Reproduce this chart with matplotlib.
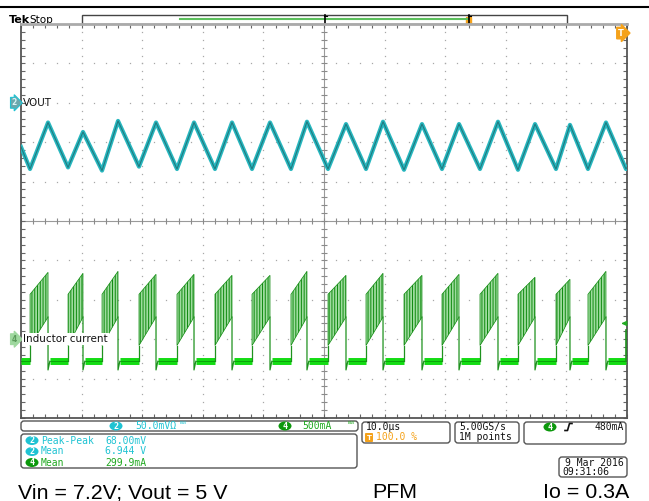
import numpy as np
import matplotlib
matplotlib.use("Agg")
import matplotlib.pyplot as plt
from matplotlib.patches import FancyBboxPatch, Rectangle, Polygon, Ellipse

# ---- channel 2 : VOUT (triangle ripple), time in us, volts
vout_t = [0.0, 1.49, 4.46, 7.76, 10.23, 13.37, 16.01, 19.47, 22.28, 25.74, 28.55,
          32.01, 34.82, 38.12, 41.09, 44.55, 47.19, 50.66, 53.63, 56.93, 59.74,
          63.20, 66.17, 69.47, 72.28, 75.74, 78.71, 82.01, 84.82, 88.28, 90.59,
          93.56, 96.53, 99.83, 100.0]
vout_v = [6.944, 6.916, 6.975, 6.918, 6.963, 6.914, 6.977, 6.919, 6.975, 6.916, 6.975,
          6.916, 6.975, 6.916, 6.975, 6.916, 6.976, 6.916, 6.973, 6.916, 6.976,
          6.915, 6.973, 6.916, 6.973, 6.916, 6.976, 6.915, 6.973, 6.916, 6.972,
          6.916, 6.975, 6.916, 6.918]

# ---- channel 4 : inductor current bursts (PFM), us / mA
burst_start = [1.49, 7.76, 13.37, 19.47, 25.74, 32.01, 38.12, 44.55,
               50.66, 56.93, 63.20, 69.47, 75.74, 82.01, 88.28, 93.56]
burst_end = [4.46, 10.23, 16.01, 22.28, 28.55, 34.82, 41.09, 47.19,
             53.63, 59.74, 66.17, 72.28, 78.71, 84.82, 90.59, 96.53]
burst_peak = [1129, 1117, 1142, 1104, 1104, 1091, 1091, 1142,
              1091, 1117, 1091, 1104, 1117, 1066, 1041, 1142]
burst_top0 = 850     # top of the ringing right after switch-on
burst_low0 = 200     # bottom of the ringing right after switch-on
burst_low1 = 560     # bottom of the ringing at switch-off
undershoot = -110
last_start = 99.83
last_level = 400

# ---- scope settings
ch2_scale, ch2_offset, ch2_pos = 0.05, 7.0, 3.0
ch4_scale, ch4_offset, ch4_pos = 500.0, 280.0, -3.0
trig_level = 480.0

meas_names = ["Peak-Peak", "Mean", "Mean"]
meas_values = ["68.00mV", "6.944 V", "299.9mA"]
meas_chan = ["2", "2", "4"]

CYAN = "#1fc3d3"
TEAL = "#27b7bf"
GREEN = "#1fa81f"
BADGE_G = "#0c980c"
ORANGE = "#f5a21a"
MONO = "DejaVu Sans Mono"


def v2div(v):
    return ch2_pos + (np.asarray(v) - ch2_offset) / ch2_scale


def i2div(i):
    return ch4_pos + (np.asarray(i, dtype=float) - ch4_offset) / ch4_scale


plt.rcParams["hatch.linewidth"] = 0.7
fig = plt.figure(figsize=(6.49, 5.01), dpi=100)

# ---------------- scope graticule
ax = fig.add_axes([21 / 649, 83 / 501, 606 / 649, 394 / 501])
ax.set_xlim(0, 100)
ax.set_ylim(-5, 5)
ax.set_xticks(np.arange(0, 101, 10))
ax.set_xticks(np.arange(0, 101, 2), minor=True)
ax.set_yticks(np.arange(-5, 5.01, 1))
ax.set_yticks(np.arange(-5, 5.01, 0.2), minor=True)
ax.tick_params(which="both", direction="in", length=3, width=0.8, color="#666666",
               top=True, bottom=True, left=True, right=True,
               labelleft=False, labelbottom=False)
for s in ["left", "right", "bottom"]:
    ax.spines[s].set_color("#555555")
    ax.spines[s].set_linewidth(1.3)
ax.spines["top"].set_color("#aaaaaa")
ax.spines["top"].set_linewidth(2)

ydots = np.arange(-5, 5.01, 0.2)
xdots = np.arange(0, 100.1, 2)
for gx in range(10, 100, 10):
    if gx != 50:
        ax.plot(np.full(len(ydots), gx), ydots, ls="none", marker="s", ms=0.9,
                mec="none", color="#a8a8a8", zorder=1)
for gy in range(-4, 5):
    if gy != 0:
        ax.plot(xdots, np.full(len(xdots), gy), ls="none", marker="s", ms=0.9,
                mec="none", color="#a8a8a8", zorder=1)
ax.axhline(0, color="#9a9a9a", lw=0.8, zorder=1)
ax.axvline(50, color="#9a9a9a", lw=0.8, zorder=1)
ax.plot(xdots, np.zeros(len(xdots)), ls="none", marker="|", ms=5, mew=0.8, color="#8a8a8a", zorder=1)
ax.plot(np.full(len(ydots), 50), ydots, ls="none", marker="_", ms=5, mew=0.8, color="#8a8a8a", zorder=1)

# ---------------- VOUT
vy = v2div(vout_v)
ax.plot(vout_t, vy, color=TEAL, lw=3.0, zorder=3)
ax.plot(vout_t, vy, color="#1f6f74", lw=0.8, alpha=0.85, zorder=4)

# ---------------- inductor current
zero = float(i2div(0))
lo0, hi0, lo1 = i2div(burst_low0), i2div(burst_top0), i2div(burst_low1)
base_x = [0.0] + [e + 0.3 for e in burst_end]
base_e = burst_start + [last_start]
for a, b in zip(base_x, base_e):
    ax.plot([a, b], [zero, zero], color="#14dc14", lw=5, solid_capstyle="butt", zorder=3)
    ax.plot([a, b], [zero, zero], color="#0a9a0a", lw=0.6, zorder=3)
for s, e, pk in zip(burst_start, burst_end, burst_peak):
    pky = float(i2div(pk))
    poly = Polygon([(s, lo0), (s, hi0), (e, pky), (e, lo1)], closed=True,
                   facecolor="#9fdc9f", edgecolor="#0f8a0f", lw=0.5,
                   hatch="||||||", zorder=3)
    ax.add_patch(poly)
    ax.plot([s, s], [zero, lo0], color="#1e921e", lw=0.9, zorder=3)
    ax.plot([e, e, e + 0.3], [lo1, float(i2div(undershoot)), zero], color="#1e921e", lw=0.9, zorder=3)
ax.plot([last_start, last_start], [zero, float(i2div(last_level))], color="#1e921e", lw=1.2, zorder=3)

# trigger level arrow
ax.annotate("", xy=(98.6, float(i2div(trig_level))), xytext=(100, float(i2div(trig_level))),
            arrowprops=dict(arrowstyle="-|>", color="#22aa22", lw=1, mutation_scale=7), zorder=6)

# channel markers / labels
ax.text(-0.0115, ch2_pos, "2", transform=ax.get_yaxis_transform(), ha="center", va="center",
        fontsize=5.5, color="#d8f4f6", fontweight="bold", clip_on=False,
        bbox=dict(boxstyle="rarrow,pad=0.12", fc="#6aa7ad", ec=CYAN, lw=0.8), zorder=7)
ax.text(0.003, ch2_pos, "VOUT", transform=ax.get_yaxis_transform(), ha="left", va="center",
        fontsize=7.5, color="#111111", zorder=7)
ax.text(-0.0115, ch4_pos, "4", transform=ax.get_yaxis_transform(), ha="center", va="center",
        fontsize=5.5, color="#5a9a5a", fontweight="bold", clip_on=False,
        bbox=dict(boxstyle="rarrow,pad=0.12", fc="#9ed89e", ec="#9ed89e", lw=0.8), zorder=7)
ax.text(0.004, ch4_pos, "Inductor current", transform=ax.get_yaxis_transform(), ha="left",
        va="center", fontsize=7.5, color="#111111", zorder=7,
        bbox=dict(boxstyle="square,pad=0.1", fc="white", ec="none"))
ax.text(0.99, 4.77, "T", transform=ax.get_yaxis_transform(), ha="center", va="center",
        fontsize=6, color="white", fontweight="bold", clip_on=False,
        bbox=dict(boxstyle="rarrow,pad=0.15", fc=ORANGE, ec=ORANGE), zorder=7)

# ---------------- overlay in pixel coordinates
ov = fig.add_axes([0, 0, 1, 1], zorder=-1)
ov.set_xlim(0, 649)
ov.set_ylim(501, 0)
ov.axis("off")

ov.plot([0, 649], [7, 7], color="black", lw=1.5)
ov.text(9, 20, "Tek", fontsize=8, fontweight="bold", va="center", ha="left")
ov.text(29, 20, "Stop", fontsize=7.5, va="center", ha="left")
ov.add_patch(Rectangle((82, 15), 485, 9, fc="white", ec="#444444", lw=1))
ov.plot([180, 468], [19, 19], color="#5cbf5c", lw=1.5)
for bx in [325, 469]:
    ov.plot([bx, bx], [15, 24], color="black", lw=1.2)
    ov.plot([bx - 1.5, bx + 1.5], [15.5, 15.5], color="black", lw=0.8)
    ov.plot([bx - 1.5, bx + 1.5], [23.5, 23.5], color="black", lw=0.8)
ov.add_patch(FancyBboxPatch((467, 18), 4, 6, boxstyle="round,pad=0.5", fc=ORANGE, ec=ORANGE))


def box(x0, y0, x1, y1):
    ov.add_patch(FancyBboxPatch((x0, y0), x1 - x0, y1 - y0,
                                boxstyle="round,pad=0,rounding_size=3",
                                fc="white", ec="#555555", lw=1))


def badge(x, y, t, col):
    ov.add_patch(Ellipse((x, y), 13, 9, fc=col, ec="none"))
    ov.text(x, y + 0.3, t, ha="center", va="center", fontsize=6, color="white",
            fontweight="bold", family=MONO)


box(21, 421, 358, 431)
badge(116, 426, "2", CYAN)
ov.text(135, 426, "50.0mVΩ", fontsize=7, color=CYAN, va="center", family=MONO)
ov.text(180, 425, "ᴮᵂ", fontsize=5, color=CYAN, va="center", family="DejaVu Sans")
badge(285, 426, "4", BADGE_G)
ov.text(302, 426, "500mA", fontsize=7, color=GREEN, va="center", family=MONO)
ov.text(348, 425, "ᴮᵂ", fontsize=5, color=GREEN, va="center", family="DejaVu Sans")

box(21, 434, 357, 468)
for k, (n, v, c) in enumerate(zip(meas_names, meas_values, meas_chan)):
    yy = 440.5 + 11 * k
    col = CYAN if c == "2" else GREEN
    badge(32, yy, c, CYAN if c == "2" else BADGE_G)
    ov.text(41, yy, n, fontsize=7, color=col, va="center", family=MONO)
    ov.text(105, yy, v, fontsize=7, color=col, va="center", family=MONO)

box(362, 422, 450, 443)
ov.text(366, 427, "10.0µs", fontsize=7, color="#111111", va="center", family=MONO)
ov.add_patch(FancyBboxPatch((366, 434), 6, 7, boxstyle="round,pad=0.3", fc=ORANGE, ec=ORANGE))
ov.text(369, 437.8, "T", fontsize=5, color="white", fontweight="bold", ha="center", va="center")
ov.text(376, 437.5, "100.0 %", fontsize=7, color=ORANGE, va="center", family=MONO)

box(455, 422, 519, 443)
ov.text(459, 427, "5.00GS/s", fontsize=7, color="#111111", va="center", family=MONO)
ov.text(459, 437.5, "1M points", fontsize=7, color="#111111", va="center", family=MONO)

box(524, 422, 626, 444)
badge(550, 427, "4", BADGE_G)
ov.plot([565, 567.5, 569.5, 572], [430.5, 430.5, 423.5, 423.5], color="#111111", lw=1.2)
ov.text(624, 427, "480mA", fontsize=7, color="#111111", va="center", ha="right", family=MONO)

box(559, 457, 627, 477)
ov.text(624, 462.5, "9 Mar 2016", fontsize=7, color="#111111", va="center", ha="right", family=MONO)
ov.text(562, 472, "09:31:06", fontsize=7, color="#111111", va="center", ha="left", family=MONO)

for x, t in [(18, "Vin = 7.2V; Vout = 5 V"), (372, "PFM"), (543, "Io = 0.3A")]:
    ov.text(x, 498.5, t, fontsize=15.4, family="Liberation Sans", color="black",
            ha="left", va="baseline")

fig.savefig("out.png", dpi=100)
